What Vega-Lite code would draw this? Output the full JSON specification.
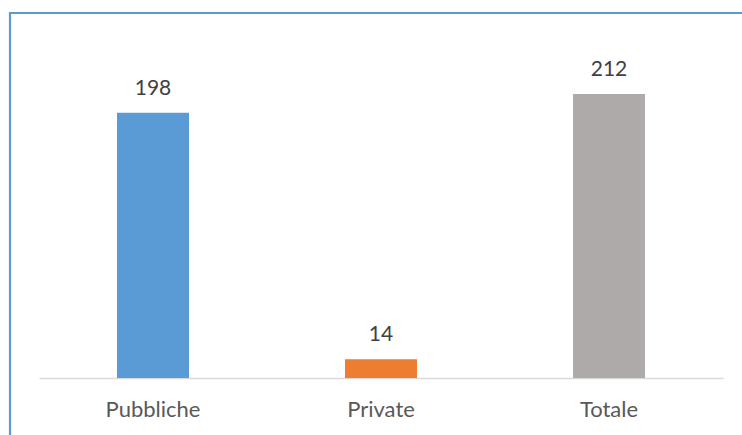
{
  "$schema": "https://vega.github.io/schema/vega-lite/v6.json",
  "autosize": {"type": "none"},
  "padding": {"left": 10, "top": 13, "right": 0, "bottom": 0},
  "width": 740,
  "height": 430,
  "background": "white",
  "config": {
    "view": {"stroke": "#5B9BD5", "strokeWidth": 2.2},
    "font": "Lato"
  },
  "data": {
    "values": [
      {"categoria": "Pubbliche", "valore": 198},
      {"categoria": "Private", "valore": 14},
      {"categoria": "Totale", "valore": 212}
    ]
  },
  "encoding": {
    "x": {
      "field": "categoria",
      "type": "nominal",
      "sort": null,
      "scale": {"range": [29, 713], "paddingInner": 0, "paddingOuter": 0},
      "axis": {
        "title": null,
        "orient": "bottom",
        "offset": -65,
        "ticks": false,
        "domainColor": "#D9D9D9",
        "domainWidth": 1.5,
        "labelAngle": 0,
        "labelFont": "Lato",
        "labelFontSize": 22,
        "labelColor": "#595959",
        "labelPadding": 21,
        "grid": false
      }
    },
    "y": {
      "field": "valore",
      "type": "quantitative",
      "scale": {"domain": [0, 212], "range": [365, 81], "nice": false, "zero": true},
      "axis": null
    }
  },
  "layer": [
    {
      "mark": {"type": "bar", "width": 72},
      "encoding": {
        "color": {
          "field": "categoria",
          "type": "nominal",
          "sort": null,
          "scale": {"domain": ["Pubbliche", "Private", "Totale"], "range": ["#5B9BD5", "#ED7D31", "#AEAAAA"]},
          "legend": null
        }
      }
    },
    {
      "mark": {"type": "text", "baseline": "alphabetic", "dy": -18, "font": "Lato", "fontSize": 21, "color": "#404040"},
      "encoding": {"text": {"field": "valore", "type": "quantitative"}}
    }
  ]
}
